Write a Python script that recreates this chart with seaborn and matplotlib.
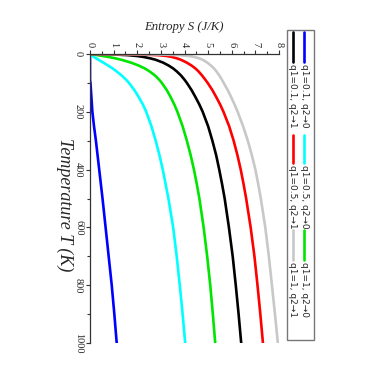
import numpy as np
import pandas as pd
import seaborn as sns
import matplotlib.pyplot as plt
from matplotlib.lines import Line2D
from matplotlib.patches import Rectangle

# temperature grid (K) and entropy values (J/K)
T = [0, 1, 2, 4, 7, 10, 15, 20, 30, 40, 50, 60, 75, 90, 100, 125, 150, 175, 200,
     250, 300, 350, 400, 450, 500, 600, 700, 800, 900, 1000]

s_blue = [0, 0, 0, 0, 0, 0, 0, 0, 0, 0, 0, 0, 0, 0, 0.02, 0.04, 0.06, 0.08, 0.1,
          0.17, 0.25, 0.32, 0.39, 0.46, 0.53, 0.66, 0.79, 0.92, 1.03, 1.13]
s_cyan = [0, 0.015, 0.03, 0.06, 0.11, 0.16, 0.26, 0.36, 0.57, 0.77, 0.96, 1.12, 1.35, 1.54, 1.65,
          1.88, 2.07, 2.24, 2.38, 2.6, 2.78, 2.94, 3.08, 3.2, 3.32, 3.52, 3.67, 3.8, 3.92, 4.03]
s_green = [0, 0.07, 0.15, 0.32, 0.55, 0.77, 1.07, 1.33, 1.74, 2.06, 2.32, 2.52, 2.76, 2.94, 3.04,
           3.25, 3.42, 3.57, 3.7, 3.92, 4.1, 4.26, 4.4, 4.52, 4.63, 4.81, 4.96, 5.09, 5.2, 5.3]
s_black = [0, 0.6, 1.1, 1.6, 2.0, 2.25, 2.55, 2.78, 3.1, 3.33, 3.52, 3.67, 3.86, 4.01, 4.1,
           4.3, 4.47, 4.63, 4.77, 5.0, 5.18, 5.34, 5.47, 5.59, 5.7, 5.88, 6.04, 6.17, 6.29, 6.4]
s_red = [0, 1.5, 2.3, 2.9, 3.25, 3.45, 3.68, 3.85, 4.1, 4.3, 4.46, 4.59, 4.75, 4.89, 4.98,
         5.18, 5.35, 5.51, 5.65, 5.89, 6.08, 6.24, 6.38, 6.5, 6.61, 6.8, 6.96, 7.09, 7.21, 7.32]
s_gray = [0, 2.0, 3.0, 3.8, 4.2, 4.42, 4.62, 4.77, 4.97, 5.12, 5.25, 5.35, 5.48, 5.59, 5.66,
          5.83, 5.98, 6.12, 6.25, 6.48, 6.68, 6.85, 7.0, 7.12, 7.23, 7.42, 7.57, 7.7, 7.83, 7.95]

labels = ["q1=0.1, q2\u21920", "q1=0.5, q2\u21920", "q1=1, q2\u21920",
          "q1=0.1, q2\u21921", "q1=0.5, q2\u21921", "q1=1, q2\u21921"]
colors = ["#0000ff", "#00ffff", "#00e600", "#000000", "#ff0000", "#c8c8c8"]
series = [s_blue, s_cyan, s_green, s_black, s_red, s_gray]

rows = []
for lab, s in zip(labels, series):
    for t, v in zip(T, s):
        rows.append({"T": t, "S": v, "case": lab})
df = pd.DataFrame(rows)

sns.set_theme(style="white")
plt.rcParams["font.family"] = ["Liberation Serif", "DejaVu Serif"]

fig = plt.figure(figsize=(3.82, 3.82), dpi=100)
ax = fig.add_axes([90 / 382, 1 - 343 / 382, 189 / 382, 289 / 382])

sns.lineplot(data=df, x="S", y="T", hue="case", hue_order=labels,
             palette=dict(zip(labels, colors)), orient="y", estimator=None,
             linewidth=1.9, legend=False, ax=ax)

ax.set_xlim(0, 8)
ax.set_ylim(1000, 0)
ax.set_xticks(np.arange(0, 9, 1))
ax.set_xticks(np.arange(0.5, 8, 1), minor=True)
ax.set_yticks(np.arange(0, 1001, 200))
ax.set_yticks(np.arange(100, 1000, 200), minor=True)
ax.xaxis.tick_top()
ax.tick_params(axis="both", which="major", direction="out", length=3, width=0.8,
               labelsize=7.5, color="#333333", pad=2)
ax.tick_params(axis="both", which="minor", direction="out", length=2, width=0.8,
               color="#333333")
ax.tick_params(axis="x", which="both", top=True, bottom=False)
ax.tick_params(axis="y", which="both", left=True, right=False)
for lab in ax.get_xticklabels():
    lab.set_rotation(-90)
for lab in ax.get_yticklabels():
    lab.set_rotation(-90)
    lab.set_va("center")

for side in ["right", "bottom"]:
    ax.spines[side].set_visible(False)
for side in ["left", "top"]:
    ax.spines[side].set_color("#333333")
    ax.spines[side].set_linewidth(0.9)

ax.set_xlabel("")
ax.set_ylabel("")
ax.text(0.497, 1.093, "Entropy S (J/K)", transform=ax.transAxes, ha="center",
        va="center", fontsize=9.2, style="italic")
ax.text(-0.132, 0.477, "Temperature T (K)", transform=ax.transAxes, ha="center",
        va="center", fontsize=13, style="italic", rotation=-90)

# legend box, drawn rotated like the rest of the chart
W = 382.0
fig.add_artist(Rectangle((287 / W, 1 - 340 / W), 27 / W, 310 / W, transform=fig.transFigure,
                         fill=False, edgecolor="#777777", linewidth=1))
cols_x = [304, 293]
rows_y = [(32, 62), (135, 163), (230, 260)]
for i, (lab, c) in enumerate(zip(labels, colors)):
    x = cols_x[i // 3]
    y0, y1 = rows_y[i % 3]
    fig.add_artist(Line2D([x / W, x / W], [1 - y0 / W, 1 - y1 / W], transform=fig.transFigure,
                          color=c, linewidth=1.9))
    fig.text(x / W, 1 - (y1 + 2) / W, lab, rotation=-90, rotation_mode="anchor",
             ha="left", va="center", fontsize=6.5, family=["DejaVu Sans"])

plt.savefig("out.png", dpi=100)
